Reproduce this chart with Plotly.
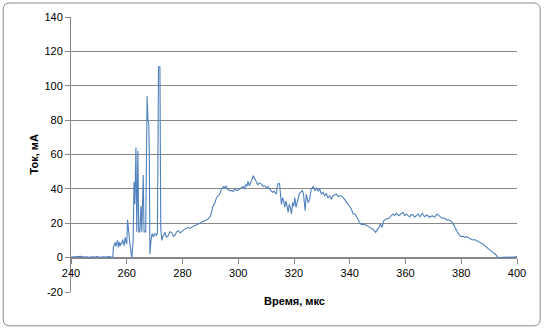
import plotly.graph_objects as go

time_us = [
    240.0, 241.0, 242.0, 243.0, 243.5, 244.5, 245.5, 246.5, 247.5, 248.5, 249.5, 250.5, 251.5, 252.5, 253.5, 254.5,
    255.0, 255.2, 255.8, 256.1, 256.4, 256.7, 257.0, 257.3, 257.6, 257.9, 258.2, 258.5, 258.8, 259.1, 259.4, 259.7,
    260.0, 260.3, 260.6, 260.9, 261.2, 261.5, 261.8, 262.3, 262.6, 262.9, 263.3, 263.6, 264.0, 264.3, 264.7, 265.1,
    265.4, 265.9, 266.2, 266.8, 267.3, 267.6, 267.9, 268.1, 268.3, 268.7, 269.1, 269.6, 270.1, 270.6, 271.0, 271.4,
    271.9, 272.2, 272.6, 272.9, 273.3, 273.7, 274.2, 274.9, 275.4, 276.1, 276.7, 277.3, 277.9, 278.5, 279.1, 279.7,
    280.3, 280.9, 281.4, 282.0, 282.7, 283.3, 283.9, 284.4, 285.0, 285.6, 286.2, 286.8, 287.4, 288.0, 288.6, 289.2,
    289.7, 290.1, 290.5, 290.8, 291.3, 291.7, 292.2, 292.8, 293.4, 294.0, 294.4, 294.8, 295.2, 295.6, 296.0, 296.4,
    297.0, 297.6, 298.2, 298.8, 299.4, 300.0, 300.6, 301.2, 301.8, 302.3, 302.7, 303.1, 303.5, 304.0, 304.4, 304.8,
    305.4, 305.9, 306.5, 307.0, 307.6, 308.3, 308.9, 309.5, 310.1, 310.7, 311.2, 311.6, 312.0, 312.3, 312.9, 313.3,
    313.7, 314.0, 314.4, 314.8, 315.1, 315.5, 315.9, 316.3, 316.7, 317.1, 317.5, 317.9, 318.3, 318.7, 319.1, 319.5,
    319.9, 320.3, 320.7, 321.1, 321.5, 321.9, 322.3, 322.7, 323.0, 323.4, 323.7, 324.0, 324.4, 324.7, 325.1, 325.6,
    326.2, 326.9, 327.5, 328.1, 328.7, 329.2, 329.8, 330.4, 331.0, 331.6, 332.2, 332.8, 333.4, 334.0, 334.6, 335.2,
    335.8, 336.4, 337.0, 337.6, 338.1, 338.9, 339.7, 340.2, 340.6, 341.2, 341.9, 342.6, 343.3, 343.7, 344.2, 344.8,
    345.4, 346.0, 346.6, 347.2, 347.8, 348.3, 348.6, 349.3, 349.8, 350.5, 351.0, 351.6, 352.2, 353.1, 354.0, 354.9,
    355.5, 356.1, 356.7, 357.6, 358.5, 359.1, 359.7, 360.3, 360.9, 361.5, 362.1, 362.7, 363.3, 363.9, 364.5, 365.2,
    366.0, 366.8, 367.7, 368.6, 369.6, 370.4, 371.3, 372.3, 373.2, 374.0, 374.7, 375.4, 376.1, 376.8, 377.2, 377.6,
    378.1, 378.5, 379.2, 380.0, 380.6, 381.2, 382.0, 382.6, 383.3, 384.0, 384.7, 385.4, 386.2, 387.0, 387.8, 388.4,
    389.0, 389.6, 390.2, 390.8, 391.4, 392.0, 392.4, 393.2, 395.0, 397.0, 399.7, 400.0,
]

current_ma = [
    0.3, 0.5, 0.4, 1.0, 0.8, 0.3, 0.5, 0.2, 0.5, 0.3, 0.6, 0.2, 0.5, 0.3, 0.6, 0.3,
    0.5, 6.0, 8.9, 6.5, 7.9, 10.0, 6.0, 9.0, 6.8, 8.5, 7.9, 10.5, 8.9, 7.0, 11.8, 9.0,
    7.9, 22.0, 14.0, 11.8, 7.0, 4.0, 0.0, 10.0, 44.0, 31.0, 64.0, 15.0, 62.0, 15.0, 15.0, 30.0,
    15.0, 48.0, 15.0, 15.0, 94.0, 80.0, 78.0, 60.0, 2.0, 10.0, 14.0, 12.0, 14.0, 13.0, 14.0, 111.0,
    111.0, 17.0, 10.0, 12.0, 14.0, 14.7, 12.0, 12.8, 15.0, 14.7, 12.5, 13.0, 15.0, 15.7, 14.5, 15.0,
    16.0, 16.7, 17.0, 17.6, 17.0, 18.0, 18.4, 18.6, 19.0, 19.6, 20.0, 20.5, 21.0, 21.5, 22.0, 22.5,
    23.5, 24.4, 27.0, 29.3, 31.0, 32.0, 35.0, 36.0, 37.0, 40.0, 41.0, 41.3, 40.5, 41.9, 40.0, 39.4,
    39.0, 39.0, 38.5, 40.0, 39.0, 39.4, 40.0, 40.5, 41.3, 40.0, 42.6, 41.5, 44.4, 41.8, 43.0, 45.0,
    47.7, 45.7, 43.8, 42.4, 43.5, 42.8, 41.5, 41.8, 40.5, 41.3, 40.0, 39.3, 38.5, 38.0, 38.6, 37.5,
    37.0, 41.8, 43.2, 43.0, 36.0, 31.0, 34.9, 33.0, 29.3, 33.0, 30.0, 26.3, 31.0, 29.0, 25.4, 32.0,
    30.0, 35.0, 29.3, 32.0, 34.0, 37.0, 38.0, 38.6, 39.0, 37.0, 32.0, 27.3, 37.0, 34.0, 32.0, 34.0,
    40.0, 41.3, 39.0, 40.5, 38.6, 40.0, 37.0, 38.0, 36.0, 37.4, 34.7, 36.0, 34.0, 36.0, 36.5, 37.0,
    35.5, 36.0, 36.0, 35.0, 34.0, 32.0, 30.2, 29.0, 28.3, 25.4, 25.4, 23.4, 20.5, 20.0, 19.2, 19.5,
    19.2, 18.5, 18.0, 17.6, 17.0, 16.7, 16.0, 14.7, 16.0, 17.6, 19.6, 17.6, 21.5, 22.5, 22.9, 24.4,
    25.4, 24.4, 25.8, 24.4, 25.4, 26.3, 24.4, 25.4, 24.4, 23.8, 25.0, 24.8, 23.5, 24.5, 25.4, 23.8,
    25.8, 23.8, 24.8, 23.5, 24.4, 23.5, 25.4, 24.0, 22.9, 23.0, 21.9, 22.0, 21.5, 20.5, 19.0, 17.6,
    16.5, 15.3, 13.4, 12.2, 12.5, 11.8, 12.2, 11.5, 10.9, 10.3, 10.5, 9.9, 9.5, 8.8, 7.9, 7.0,
    6.0, 5.2, 4.5, 3.8, 3.0, 2.2, 1.7, 0.0, 0.2, 0.3, 0.4, 0.5,
]

x_ticks = [240, 260, 280, 300, 320, 340, 360, 380, 400]
y_ticks = [-20, 0, 20, 40, 60, 80, 100, 120, 140]

x_title = "Время, мкс"
y_title = "Ток, мА"

FONT = "Liberation Sans, Arial, sans-serif"
GRID = "#878787"

fig = go.Figure()
fig.add_trace(go.Scatter(
    x=time_us, y=current_ma, mode="lines",
    line=dict(color="#4F81BD", width=1.1),
    showlegend=False, hoverinfo="x+y",
))

y_zero_pos = (0 - y_ticks[0]) / (y_ticks[-1] - y_ticks[0])

fig.update_layout(
    width=545, height=331,
    margin=dict(l=71, r=28, t=17, b=39),
    paper_bgcolor="white", plot_bgcolor="white",
    font=dict(family=FONT, size=11, color="#000000"),
    xaxis=dict(
        range=[x_ticks[0], x_ticks[-1]], tickvals=x_ticks,
        ticktext=[str(v) for v in x_ticks],
        showgrid=False, zeroline=False,
        anchor="free", position=y_zero_pos,
        showline=True, linecolor=GRID, linewidth=1,
        ticks="outside", ticklen=5, tickcolor=GRID,
        tickfont=dict(family=FONT, size=11),
    ),
    yaxis=dict(
        range=[y_ticks[0], y_ticks[-1]], tickvals=y_ticks,
        ticktext=[str(v) for v in y_ticks],
        showgrid=True, gridcolor=GRID, gridwidth=1, zeroline=False,
        showline=True, linecolor=GRID, linewidth=1,
        ticks="outside", ticklen=5, tickcolor=GRID,
        tickfont=dict(family=FONT, size=11),
    ),
    annotations=[
        dict(text="<b>" + x_title + "</b>", xref="paper", yref="paper",
             x=0.5, y=-0.033, xanchor="center", yanchor="middle", showarrow=False,
             font=dict(family=FONT, size=11)),
        dict(text="<b>" + y_title + "</b>", xref="paper", yref="paper",
             x=-0.085, y=0.5, xanchor="center", yanchor="middle", showarrow=False,
             textangle=-90, font=dict(family=FONT, size=11)),
    ],
)

# outer rounded border of the chart area (paper coords)
x0, x1, y0, y1, r = -0.152, 1.052, -0.123, 1.051, 0.015
ry = r * 446 / 275
path = (f"M {x0 + r},{y1} L {x1 - r},{y1} Q {x1},{y1} {x1},{y1 - ry} "
        f"L {x1},{y0 + ry} Q {x1},{y0} {x1 - r},{y0} "
        f"L {x0 + r},{y0} Q {x0},{y0} {x0},{y0 + ry} "
        f"L {x0},{y1 - ry} Q {x0},{y1} {x0 + r},{y1} Z")
fig.add_shape(type="path", path=path, xref="paper", yref="paper",
              line=dict(color="#8c8c8c", width=1), layer="below")

fig.write_html("out.html", config={"displayModeBar": False},
               post_script="document.body.style.margin='0';document.body.style.overflow='hidden';")
